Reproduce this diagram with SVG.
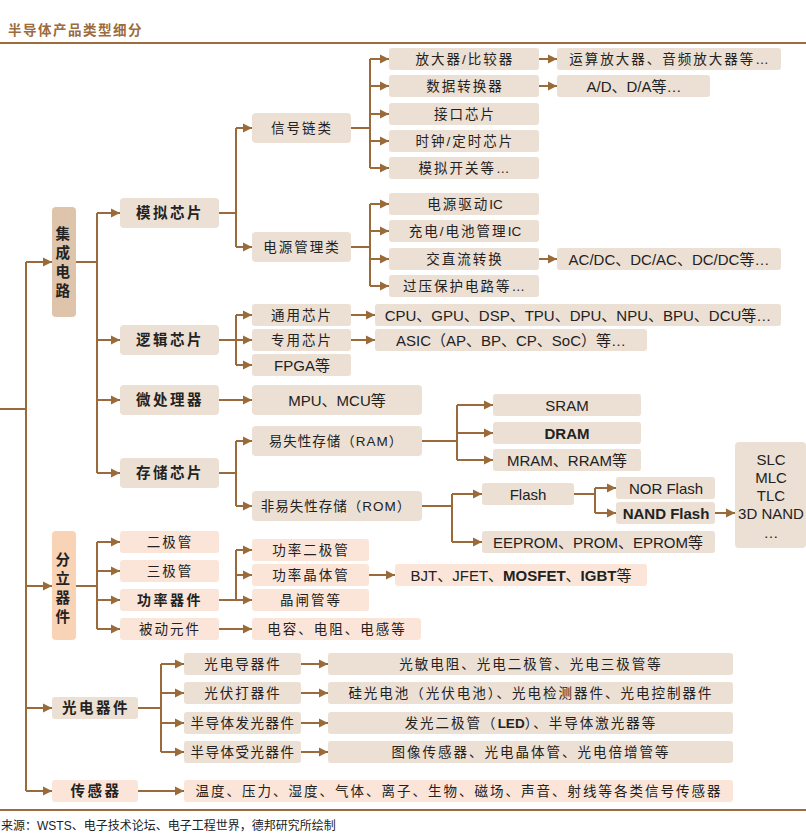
<svg xmlns="http://www.w3.org/2000/svg" width="806" height="834" viewBox="0 0 806 834">
<style>
text{font-family:"Liberation Sans","Noto Sans CJK SC",sans-serif;fill:#222;text-anchor:middle;dominant-baseline:central}
.t{font-size:13.5px;letter-spacing:2px}
.l{font-size:15px}
.b{font-size:14.5px;font-weight:bold;letter-spacing:2.5px}
.bx{fill:#ECDFD3}
.pk{fill:#FBE5D8}
.hd{font-size:13.5px;font-weight:bold;fill:#9C6B3E;text-anchor:start;letter-spacing:1.5px}
.src{font-size:12px;text-anchor:start}
.ln{stroke:#9C6B3E;stroke-width:2}
.n0{letter-spacing:0}
</style>
<defs>
<marker id="a" markerWidth="10" markerHeight="10" refX="9" refY="5" orient="auto" markerUnits="userSpaceOnUse"><path d="M0,0.5 L9,5 L0,9.5z" fill="#9A6A3A"/></marker>
</defs>
<rect width="806" height="834" fill="#fff"/>
<text class="hd" x="8" y="30">半导体产品类型细分</text>
<line class="ln" x1="0" y1="43" x2="806" y2="43"/>
<line class="ln" x1="0" y1="810" x2="806" y2="810"/>
<text class="src" x="1" y="826">来源：WSTS、电子技术论坛、电子工程世界，德邦研究所绘制</text>

<g id="connectors" fill="none" stroke="#9A6A3A" stroke-width="2">
<path d="M0,409 H26 M26,262 V791 M76,262 H97 M97,213 V473 M219,213 H236 M236,128 V247 M351,128 H370 M370,59 V168 M351,247 H370 M370,204 V286 M219,340 H236 M236,315 V365 M219,473 H236 M236,441 V506 M422,441 H457 M457,405 V460 M422,506 H452 M452,494 V542 M574,494 H595 M595,488 V513 M76,586 H97 M97,542 V629 M219,600 H236 M236,550 V600 M138,708 H161 M161,664 V752"/>
<g marker-end="url(#a)">
<path d="M26,262 H52"/><path d="M26,586 H52"/><path d="M26,708 H52"/><path d="M26,791 H52"/>
<path d="M97,213 H120"/><path d="M97,340 H120"/><path d="M97,400 H120"/><path d="M97,473 H120"/>
<path d="M236,128 H252"/><path d="M236,247 H252"/>
<path d="M370,59 H389"/><path d="M370,86 H389"/><path d="M370,114 H389"/><path d="M370,141 H389"/><path d="M370,168 H389"/>
<path d="M539,59 H557"/><path d="M539,86 H557"/>
<path d="M370,204 H389"/><path d="M370,231 H389"/><path d="M370,259 H389"/><path d="M370,286 H389"/>
<path d="M539,259 H557"/>
<path d="M236,315 H252"/><path d="M236,340 H252"/><path d="M236,365 H252"/>
<path d="M351,315 H375"/><path d="M351,340 H375"/>
<path d="M219,400 H252"/>
<path d="M236,441 H252"/><path d="M236,506 H252"/>
<path d="M457,405 H493"/><path d="M457,433 H493"/><path d="M457,460 H493"/>
<path d="M452,494 H482"/><path d="M452,542 H482"/>
<path d="M595,488 H616"/><path d="M595,513 H616"/>
<path d="M715,513 H735"/>
<path d="M97,542 H120"/><path d="M97,571 H120"/><path d="M97,600 H120"/><path d="M97,629 H120"/>
<path d="M236,550 H252"/><path d="M236,575 H252"/><path d="M236,600 H252"/>
<path d="M369,575 H395"/>
<path d="M219,629 H252"/>
<path d="M161,664 H184"/><path d="M161,693 H184"/><path d="M161,723 H184"/><path d="M161,752 H184"/>
<path d="M301,664 H328"/><path d="M301,693 H328"/><path d="M301,723 H328"/><path d="M301,752 H328"/>
<path d="M138,791 H184"/>
</g>
</g>

<g id="n-jcdl"><rect x="52" y="207" width="24" height="110" rx="4" fill="#DEC4AB"/>
<text class="b" x="64" y="234">集</text><text class="b" x="64" y="253">成</text><text class="b" x="64" y="272">电</text><text class="b" x="64" y="291">路</text></g>
<g id="n-mnxp"><rect class="bx" x="120" y="198" width="99" height="30" rx="4"/><text class="b" x="170" y="213">模拟芯片</text></g>
<g id="n-xhl"><rect class="bx" x="252" y="113" width="99" height="30" rx="4"/><text class="t" x="302" y="128">信号链类</text></g>
<g id="n-dygl"><rect class="bx" x="252" y="232" width="99" height="30" rx="4"/><text class="t" x="302" y="247">电源管理类</text></g>
<g id="n-fdq"><rect class="bx" x="389" y="48" width="150" height="22" rx="3"/><text class="t" x="465" y="59">放大器/比较器</text></g>
<g id="n-sjzh"><rect class="bx" x="389" y="75" width="150" height="22" rx="3"/><text class="t" x="465" y="86">数据转换器</text></g>
<g id="n-jkxp"><rect class="bx" x="389" y="103" width="150" height="22" rx="3"/><text class="t" x="465" y="114">接口芯片</text></g>
<g id="n-sz"><rect class="bx" x="389" y="130" width="150" height="22" rx="3"/><text class="t" x="465" y="141">时钟/定时芯片</text></g>
<g id="n-mnkg"><rect class="bx" x="389" y="157" width="150" height="22" rx="3"/><text class="t" x="465" y="168">模拟开关等…</text></g>
<g id="n-ysfd"><rect class="bx" x="557" y="48" width="224" height="22" rx="3"/><text class="t" x="670" y="59">运算放大器、音频放大器等…</text></g>
<g id="n-ad"><rect class="bx" x="557" y="75" width="153" height="22" rx="3"/><text class="l" x="634" y="86">A/D、D/A等…</text></g>
<g id="n-dyqd"><rect class="bx" x="389" y="193" width="150" height="22" rx="3"/><text class="t" x="465" y="204">电源驱动<tspan class="n0">IC</tspan></text></g>
<g id="n-cd"><rect class="bx" x="389" y="220" width="150" height="22" rx="3"/><text class="t" x="465" y="231">充电/电池管理<tspan class="n0">IC</tspan></text></g>
<g id="n-jzl"><rect class="bx" x="389" y="248" width="150" height="22" rx="3"/><text class="t" x="465" y="259">交直流转换</text></g>
<g id="n-gy"><rect class="bx" x="389" y="275" width="150" height="22" rx="3"/><text class="t" x="465" y="286">过压保护电路等…</text></g>
<g id="n-acdc"><rect class="bx" x="557" y="248" width="224" height="22" rx="3"/><text class="l" x="669" y="259">AC/DC、DC/AC、DC/DC等…</text></g>
<g id="n-ljxp"><rect class="bx" x="120" y="325" width="99" height="30" rx="4"/><text class="b" x="170" y="340">逻辑芯片</text></g>
<g id="n-tyxp"><rect class="bx" x="252" y="304" width="99" height="22" rx="3"/><text class="t" x="302" y="315">通用芯片</text></g>
<g id="n-zyxp"><rect class="bx" x="252" y="329" width="99" height="22" rx="3"/><text class="t" x="302" y="340">专用芯片</text></g>
<g id="n-fpga"><rect class="bx" x="252" y="354" width="99" height="22" rx="3"/><text class="l" x="302" y="365">FPGA等</text></g>
<g id="n-cpu"><rect class="bx" x="375" y="304" width="406" height="22" rx="3"/><text class="l" x="578" y="315">CPU、GPU、DSP、TPU、DPU、NPU、BPU、DCU等…</text></g>
<g id="n-asic"><rect class="bx" x="375" y="329" width="272" height="22" rx="3"/><text class="l" x="511" y="340">ASIC（AP、BP、CP、SoC）等…</text></g>
<g id="n-wclq"><rect class="bx" x="120" y="385" width="99" height="30" rx="4"/><text class="b" x="170" y="400">微处理器</text></g>
<g id="n-mpu"><rect class="bx" x="252" y="385" width="170" height="30" rx="4"/><text class="l" x="337" y="400">MPU、MCU等</text></g>
<g id="n-ccxp"><rect class="bx" x="120" y="458" width="99" height="30" rx="4"/><text class="b" x="170" y="473">存储芯片</text></g>
<g id="n-ram"><rect class="bx" x="252" y="426" width="170" height="30" rx="4"/><text class="t" x="336" y="441" style="letter-spacing:1px">易失性存储（RAM）</text></g>
<g id="n-rom"><rect class="bx" x="252" y="491" width="170" height="30" rx="4"/><text class="t" x="336" y="506" style="letter-spacing:1px">非易失性存储（ROM）</text></g>
<g id="n-sram"><rect class="bx" x="493" y="394" width="148" height="22" rx="3"/><text class="l" x="567" y="405">SRAM</text></g>
<g id="n-dram"><rect class="bx" x="493" y="422" width="148" height="22" rx="3"/><text class="l" x="567" y="433" font-weight="bold">DRAM</text></g>
<g id="n-mram"><rect class="bx" x="493" y="449" width="148" height="22" rx="3"/><text class="l" x="567" y="460">MRAM、RRAM等</text></g>
<g id="n-flash"><rect class="bx" x="482" y="483" width="92" height="22" rx="3"/><text class="l" x="528" y="494">Flash</text></g>
<g id="n-eeprom"><rect class="bx" x="482" y="531" width="233" height="22" rx="3"/><text class="l" x="598" y="542">EEPROM、PROM、EPROM等</text></g>
<g id="n-nor"><rect class="bx" x="616" y="477" width="99" height="22" rx="3"/><text class="l" x="666" y="488">NOR Flash</text></g>
<g id="n-nand"><rect class="bx" x="616" y="502" width="99" height="22" rx="3"/><text class="l" x="666" y="513" font-weight="bold">NAND Flash</text></g>
<g id="n-slc"><rect class="bx" x="735" y="442" width="71" height="106" rx="4"/>
<text class="l" x="771" y="459">SLC</text><text class="l" x="771" y="477">MLC</text><text class="l" x="771" y="495">TLC</text><text class="l" x="771" y="513">3D NAND</text><text class="l" x="771" y="532">…</text></g>

<g id="n-fljj"><rect x="52" y="531" width="24" height="109" rx="4" fill="#F9D3B5"/>
<text class="b" x="64" y="560">分</text><text class="b" x="64" y="579">立</text><text class="b" x="64" y="598">器</text><text class="b" x="64" y="617">件</text></g>
<g id="n-ejg"><rect class="pk" x="120" y="531" width="99" height="22" rx="3"/><text class="t" x="170" y="542">二极管</text></g>
<g id="n-sjg"><rect class="pk" x="120" y="560" width="99" height="22" rx="3"/><text class="t" x="170" y="571">三极管</text></g>
<g id="n-glqj"><rect class="pk" x="120" y="589" width="99" height="22" rx="3"/><text class="b" x="170" y="600" style="font-size:14px">功率器件</text></g>
<g id="n-bdyj"><rect class="pk" x="120" y="618" width="99" height="22" rx="3"/><text class="t" x="170" y="629">被动元件</text></g>
<g id="n-glejg"><rect class="pk" x="252" y="539" width="117" height="22" rx="3"/><text class="t" x="311" y="550">功率二极管</text></g>
<g id="n-gljtg"><rect class="pk" x="252" y="564" width="117" height="22" rx="3"/><text class="t" x="311" y="575">功率晶体管</text></g>
<g id="n-jzg"><rect class="pk" x="252" y="589" width="117" height="22" rx="3"/><text class="t" x="311" y="600">晶闸管等</text></g>
<g id="n-dr"><rect class="pk" x="252" y="618" width="169" height="22" rx="3"/><text class="t" x="337" y="629">电容、电阻、电感等</text></g>
<g id="n-bjt"><rect class="pk" x="395" y="564" width="252" height="22" rx="3"/><text class="l" x="521" y="575">BJT、JFET、<tspan font-weight="bold">MOSFET</tspan>、<tspan font-weight="bold">IGBT</tspan>等</text></g>

<g id="n-gdqj"><rect class="bx" x="52" y="697" width="86" height="22" rx="3"/><text class="b" x="96" y="708">光电器件</text></g>
<g id="n-gddqj"><rect class="bx" x="184" y="653" width="117" height="22" rx="3"/><text class="t" x="243" y="664">光电导器件</text></g>
<g id="n-gfdqj"><rect class="bx" x="184" y="682" width="117" height="22" rx="3"/><text class="t" x="243" y="693">光伏打器件</text></g>
<g id="n-fgqj"><rect class="bx" x="184" y="712" width="117" height="22" rx="3"/><text class="t" x="243" y="723" style="letter-spacing:1.5px">半导体发光器件</text></g>
<g id="n-sgqj"><rect class="bx" x="184" y="741" width="117" height="22" rx="3"/><text class="t" x="243" y="752" style="letter-spacing:1.5px">半导体受光器件</text></g>
<g id="n-gmdz"><rect class="bx" x="328" y="653" width="405" height="22" rx="3"/><text class="t" x="531" y="664">光敏电阻、光电二极管、光电三极管等</text></g>
<g id="n-ggdc"><rect class="bx" x="328" y="682" width="405" height="22" rx="3"/><text class="t" x="531" y="693">硅光电池（光伏电池）、光电检测器件、光电控制器件</text></g>
<g id="n-led"><rect class="bx" x="328" y="712" width="405" height="22" rx="3"/><text class="t" x="531" y="723">发光二极管（<tspan font-weight="bold" style="letter-spacing:0">LED</tspan>）、半导体激光器等</text></g>
<g id="n-txcg"><rect class="bx" x="328" y="741" width="405" height="22" rx="3"/><text class="t" x="531" y="752">图像传感器、光电晶体管、光电倍增管等</text></g>
<g id="n-cgq"><rect class="pk" x="52" y="780" width="86" height="22" rx="3"/><text class="b" x="96" y="791">传感器</text></g>
<g id="n-wd"><rect class="pk" x="184" y="780" width="549" height="22" rx="3"/><text class="t" x="459" y="791">温度、压力、湿度、气体、离子、生物、磁场、声音、射线等各类信号传感器</text></g>
</svg>
